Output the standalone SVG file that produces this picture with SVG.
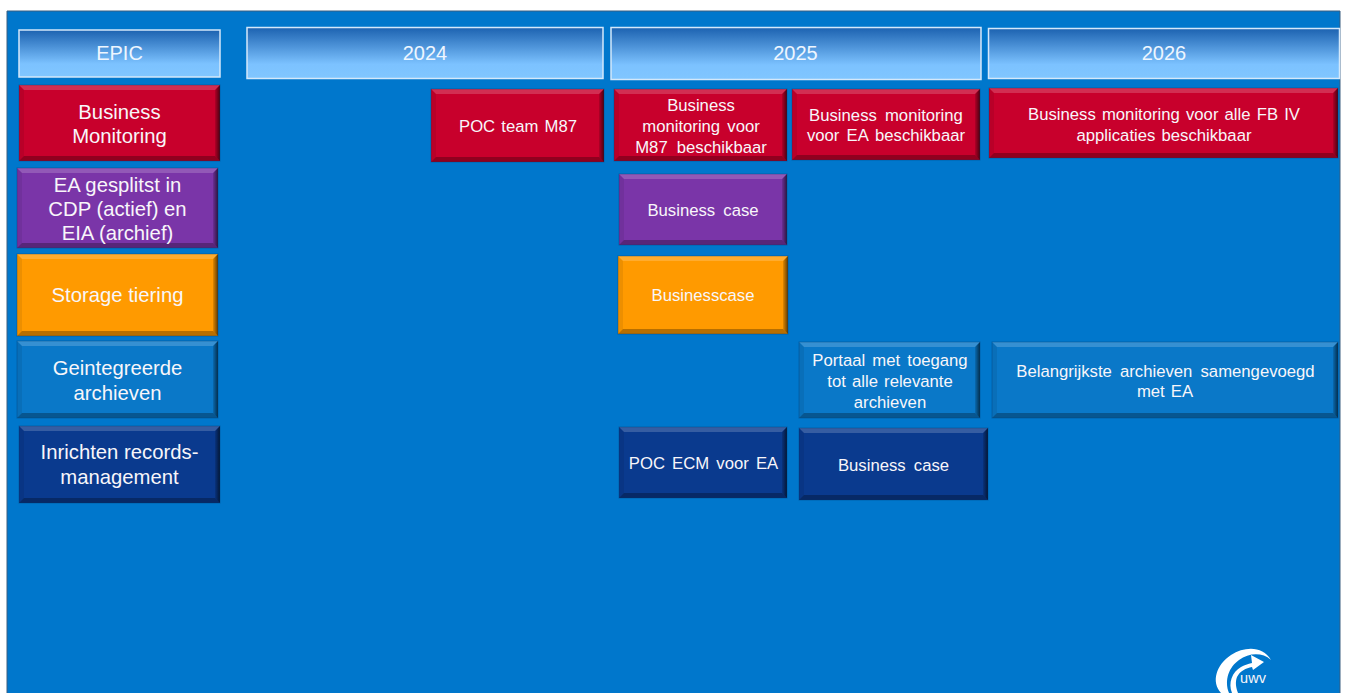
<svg xmlns="http://www.w3.org/2000/svg" width="1346" height="693" viewBox="0 0 1346 693">
<style>
text{font-family:"Liberation Sans",Arial,sans-serif;fill:#f8f6fa;text-anchor:middle}
.h{font-size:20px;fill:#eef6ff}.l{font-size:20.3px}.s{font-size:16.7px;word-spacing:1.5px}
.w2{word-spacing:2.5px}.w3{word-spacing:3.5px}.w4{word-spacing:4.5px}
.red{fill:#c8002c}.pur{fill:#7a35a8}.ora{fill:#ff9a00}.mid{fill:#0a78c8}.nav{fill:#0a3a8e}
.hd{fill:url(#hg);stroke:#d4e8fa;stroke-width:1.5}
.t{fill:#fff;opacity:.18}.b{fill:#000;opacity:.28}.r{fill:url(#rg)}.g{fill:#000;opacity:.07}
.o{fill:none;stroke:#003a70;stroke-opacity:.35}
</style>
<defs>
<linearGradient id="hg" x1="0" y1="0" x2="0" y2="1"><stop offset="0" stop-color="#1c62b0"/><stop offset=".72" stop-color="#7cc2ff"/><stop offset="1" stop-color="#80c6ff"/></linearGradient>
<linearGradient id="rg" x1="0" y1="0" x2="1" y2="0"><stop offset="0" stop-color="#000" stop-opacity=".12"/><stop offset="1" stop-color="#000" stop-opacity=".62"/></linearGradient>
</defs>
<rect width="1346" height="693" fill="#fff"/>
<rect x="7" y="11" width="1333" height="682" fill="#0077cc"/>
<path d="M7 693V11H1340V693" fill="none" stroke="#3a5f80" stroke-width="1"/>
<g id="header-epic"><rect class="hd" x="19" y="30" width="201" height="47"/><text class="h" x="119.500" y="60">EPIC</text></g>
<g id="header-2024"><rect class="hd" x="247" y="27.500" width="356" height="51"/><text class="h" x="425" y="60">2024</text></g>
<g id="header-2025"><rect class="hd" x="611" y="27.500" width="370" height="52"/><text class="h" x="795.500" y="60">2025</text></g>
<g id="header-2026"><rect class="hd" x="988.500" y="28.500" width="351" height="50"/><text class="h" x="1164" y="60">2026</text></g>
<g id="epic-monitoring"><rect class="red" x="19" y="85" width="201" height="76"/><path class="t" d="M19 85H220L215 90H24Z"/><path class="r" d="M220 85V161L215 156V90Z"/><path class="b" d="M19 161H220L215 156H24Z"/><path class="g" d="M19 85V161L24 156V90Z"/><rect class="o" x="19" y="85" width="201" height="76"/><text class="l" x="119.500" y="119">Business</text><text class="l" x="119.500" y="143">Monitoring</text></g>
<g id="m87-poc"><rect class="red" x="431" y="89" width="173" height="73"/><path class="t" d="M431 89H604L599 94H436Z"/><path class="r" d="M604 89V162L599 157V94Z"/><path class="b" d="M431 162H604L599 157H436Z"/><path class="g" d="M431 89V162L436 157V94Z"/><rect class="o" x="431" y="89" width="173" height="73"/><text class="s" x="518" y="132">POC team M87</text></g>
<g id="m87-monitoring"><rect class="red" x="614" y="89" width="173" height="72"/><path class="t" d="M614 89H787L782 94H619Z"/><path class="r" d="M787 89V161L782 156V94Z"/><path class="b" d="M614 161H787L782 156H619Z"/><path class="g" d="M614 89V161L619 156V94Z"/><rect class="o" x="614" y="89" width="173" height="72"/><text class="s" x="701" y="111">Business</text><text class="s w2" x="701" y="132">monitoring voor</text><text class="s w4" x="701" y="153">M87 beschikbaar</text></g>
<g id="ea-monitoring"><rect class="red" x="792" y="89" width="188" height="71"/><path class="t" d="M792 89H980L975 94H797Z"/><path class="r" d="M980 89V160L975 155V94Z"/><path class="b" d="M792 160H980L975 155H797Z"/><path class="g" d="M792 89V160L797 155V94Z"/><rect class="o" x="792" y="89" width="188" height="71"/><text class="s w3" x="886" y="121">Business monitoring</text><text class="s w2" x="886" y="141">voor EA beschikbaar</text></g>
<g id="fb-monitoring"><rect class="red" x="989" y="88" width="349" height="70"/><path class="t" d="M989 88H1338L1333 93H994Z"/><path class="r" d="M1338 88V158L1333 153V93Z"/><path class="b" d="M989 158H1338L1333 153H994Z"/><path class="g" d="M989 88V158L994 153V93Z"/><rect class="o" x="989" y="88" width="349" height="70"/><text class="s" x="1164" y="120">Business monitoring voor alle FB IV</text><text class="s" x="1164" y="141">applicaties beschikbaar</text></g>
<g id="epic-split"><rect class="pur" x="17" y="168" width="201" height="80"/><path class="t" d="M17 168H218L213 173H22Z"/><path class="r" d="M218 168V248L213 243V173Z"/><path class="b" d="M17 248H218L213 243H22Z"/><path class="g" d="M17 168V248L22 243V173Z"/><rect class="o" x="17" y="168" width="201" height="80"/><text class="l" x="117.500" y="192">EA gesplitst in</text><text class="l" x="117.500" y="216">CDP (actief) en</text><text class="l" x="117.500" y="240">EIA (archief)</text></g>
<g id="split-case"><rect class="pur" x="619" y="174" width="168" height="71"/><path class="t" d="M619 174H787L782 179H624Z"/><path class="r" d="M787 174V245L782 240V179Z"/><path class="b" d="M619 245H787L782 240H624Z"/><path class="g" d="M619 174V245L624 240V179Z"/><rect class="o" x="619" y="174" width="168" height="71"/><text class="s w3" x="703" y="216">Business case</text></g>
<g id="epic-storage"><rect class="ora" x="17" y="254" width="201" height="82"/><path class="t" d="M17 254H218L213 259H22Z"/><path class="r" d="M218 254V336L213 331V259Z"/><path class="b" d="M17 336H218L213 331H22Z"/><path class="g" d="M17 254V336L22 331V259Z"/><rect class="o" x="17" y="254" width="201" height="82"/><text class="l" x="117.500" y="302">Storage tiering</text></g>
<g id="storage-case"><rect class="ora" x="618" y="256" width="170" height="78"/><path class="t" d="M618 256H788L783 261H623Z"/><path class="r" d="M788 256V334L783 329V261Z"/><path class="b" d="M618 334H788L783 329H623Z"/><path class="g" d="M618 256V334L623 329V261Z"/><rect class="o" x="618" y="256" width="170" height="78"/><text class="s" x="703" y="301">Businesscase</text></g>
<g id="epic-archives"><rect class="mid" x="17" y="341" width="201" height="77"/><path class="t" d="M17 341H218L213 346H22Z"/><path class="r" d="M218 341V418L213 413V346Z"/><path class="b" d="M17 418H218L213 413H22Z"/><path class="g" d="M17 341V418L22 413V346Z"/><rect class="o" x="17" y="341" width="201" height="77"/><text class="l" x="117.500" y="375">Geintegreerde</text><text class="l" x="117.500" y="400">archieven</text></g>
<g id="archives-portal"><rect class="mid" x="799" y="342" width="181" height="76"/><path class="t" d="M799 342H980L975 347H804Z"/><path class="r" d="M980 342V418L975 413V347Z"/><path class="b" d="M799 418H980L975 413H804Z"/><path class="g" d="M799 342V418L804 413V347Z"/><rect class="o" x="799" y="342" width="181" height="76"/><text class="s w2" x="890" y="366">Portaal met toegang</text><text class="s" x="890" y="387">tot alle relevante</text><text class="s" x="890" y="408">archieven</text></g>
<g id="archives-merged"><rect class="mid" x="992" y="342" width="346" height="76"/><path class="t" d="M992 342H1338L1333 347H997Z"/><path class="r" d="M1338 342V418L1333 413V347Z"/><path class="b" d="M992 418H1338L1333 413H997Z"/><path class="g" d="M992 342V418L997 413V347Z"/><rect class="o" x="992" y="342" width="346" height="76"/><text class="s w3" x="1165.500" y="377">Belangrijkste archieven samengevoegd</text><text class="s" x="1165" y="397">met EA</text></g>
<g id="epic-records"><rect class="nav" x="19" y="426" width="201" height="77"/><path class="t" d="M19 426H220L215 431H24Z"/><path class="r" d="M220 426V503L215 498V431Z"/><path class="b" d="M19 503H220L215 498H24Z"/><path class="g" d="M19 426V503L24 498V431Z"/><rect class="o" x="19" y="426" width="201" height="77"/><text class="l" x="119.500" y="459">Inrichten records-</text><text class="l" x="119.500" y="484">management</text></g>
<g id="records-poc"><rect class="nav" x="619" y="427" width="168" height="71"/><path class="t" d="M619 427H787L782 432H624Z"/><path class="r" d="M787 427V498L782 493V432Z"/><path class="b" d="M619 498H787L782 493H624Z"/><path class="g" d="M619 427V498L624 493V432Z"/><rect class="o" x="619" y="427" width="168" height="71"/><text class="s w2" x="703.500" y="469">POC ECM voor EA</text></g>
<g id="records-case"><rect class="nav" x="799" y="428" width="189" height="72"/><path class="t" d="M799 428H988L983 433H804Z"/><path class="r" d="M988 428V500L983 495V433Z"/><path class="b" d="M799 500H988L983 495H804Z"/><path class="g" d="M799 428V500L804 495V433Z"/><rect class="o" x="799" y="428" width="189" height="72"/><text class="s w3" x="893.500" y="471">Business case</text></g>
<g id="logo">
<path fill="#fff" d="M1221 693C1211 682 1216 665 1231 655C1245 646 1263 646 1271 660C1262 652 1249 653 1239 660C1229 667 1224 680 1229 693Z"/>
<path fill="#fff" d="M1232 693C1228 683 1232 672 1241 667C1244 665 1248 664 1252 663L1251 655L1264 662L1253 670L1252 667C1246 668 1240 671 1237 677C1235 682 1236 688 1238 693Z"/>
<text x="1253" y="683" style="font-size:14.500px">uwv</text>
</g>
</svg>
